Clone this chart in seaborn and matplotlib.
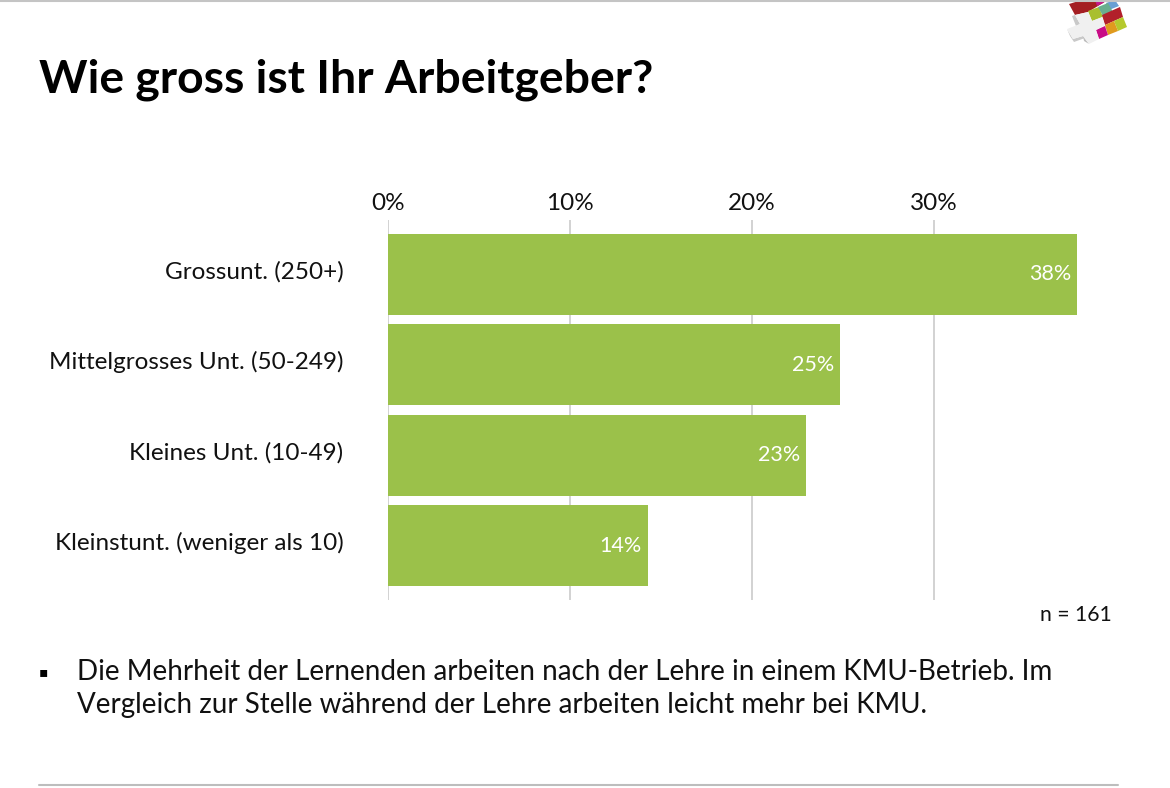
import matplotlib
matplotlib.use("Agg")
import matplotlib.pyplot as plt
import matplotlib.transforms as mtrans
import pandas as pd
import seaborn as sns
from matplotlib.patches import Polygon

# ---------------------------------
# Data
# ---------------------------------
categories = ["Grossunt. (250+)", "Mittelgrosses Unt. (50-249)",
              "Kleines Unt. (10-49)", "Kleinstunt. (weniger als 10)"]
values = [37.86, 24.85, 22.97, 14.3]
value_labels = ["38%", "25%", "23%", "14%"]
x_ticks = [0, 10, 20, 30]
x_tick_labels = ["0%", "10%", "20%", "30%"]

title = "Wie gross ist Ihr Arbeitgeber?"
note = "n = 161"
bullet_lines = ["Die Mehrheit der Lernenden arbeiten nach der Lehre in einem KMU-Betrieb. Im",
                "Vergleich zur Stelle während der Lehre arbeiten leicht mehr bei KMU."]

W, H = 1170, 788
GREEN = "#9BC14A"
GRID = "#CFCFCF"

sns.set_theme(style="white")
plt.rcParams["font.family"] = ["Lato", "DejaVu Sans"]

df = pd.DataFrame({"kategorie": categories, "anteil": values})

fig = plt.figure(figsize=(W / 100, H / 100), dpi=100, facecolor="white")

# axes box in pixels: left 388, right 1098, top 220, bottom 600
ax = fig.add_axes([388 / W, 1 - 600 / H, 710 / W, 380 / H])
ax.set_axisbelow(True)
sns.barplot(data=df, y="kategorie", x="anteil", color=GREEN, saturation=1,
            width=0.895, linewidth=0, ax=ax)

ax.set_xlim(0, 39)
ax.set_ylim(3.597, -0.602)
ax.set_xlabel("")
ax.set_ylabel("")
ax.xaxis.tick_top()
ax.set_xticks(x_ticks)
ax.set_xticklabels(x_tick_labels, fontsize=17.5, color="#111111")
ax.tick_params(axis="x", length=0, pad=4.5)
ax.tick_params(axis="y", length=0, pad=32, labelsize=17.5, labelcolor="#111111")
ax.xaxis.grid(True, color=GRID, linewidth=1.3)
ax.yaxis.grid(False)
for s in ax.spines.values():
    s.set_visible(False)

# category labels sit a little above the bar centres
shift_up = mtrans.ScaledTranslation(0, 5 / 100, fig.dpi_scale_trans)
for lab in ax.get_yticklabels():
    lab.set_transform(lab.get_transform() + shift_up)

ax.bar_label(ax.containers[0], labels=value_labels, label_type="edge", padding=-35,
             color="white", fontsize=15.5)


# ---------------------------------
# Slide elements around the chart
# ---------------------------------
def px_text(x, y, s, **kw):
    fig.text(x / W, 1 - y / H, s, va="center", **kw)


def px_line(x0, x1, y, color, lw):
    fig.add_artist(plt.Line2D([x0 / W, x1 / W], [1 - y / H, 1 - y / H], color=color, linewidth=lw))


def px_poly(pts, color):
    fig.add_artist(Polygon([(x / W, 1 - y / H) for x, y in pts], closed=True,
                           facecolor=color, edgecolor="none", transform=fig.transFigure))


px_text(39, 80, title, fontsize=33.3, fontweight="bold", color="black")
px_text(1112, 615, note, ha="right", fontsize=15.2, color="#111111")
px_text(39, 672, "▪", fontsize=10, color="black", family=["DejaVu Sans"])
px_text(77, 672, bullet_lines[0], fontsize=20, color="#111111")
px_text(77, 705, bullet_lines[1], fontsize=20, color="#111111")

px_line(0, W, 0.5, "#C4C4C4", 1.5)
px_line(39, 1118, 785, "#BDBDBD", 1.5)

# logo
px_poly([(1069, 4), (1082, 0), (1108, 0), (1088, 12), (1075, 15)], "#A41E22")
px_poly([(1095, 0), (1106, 0), (1103, 3), (1097, 6)], "#C5168C")
px_poly([(1106, 3), (1115, 0), (1119, 6), (1109, 10)], "#6A9FD3")
px_poly([(1088, 11), (1099, 7), (1103, 17), (1092, 21)], "#A9BF2F")
px_poly([(1098, 7), (1108, 3), (1113, 12), (1103, 16)], "#6AAE8E")
px_poly([(1102, 15), (1120, 7), (1123, 17), (1105, 25)], "#B2202A")
px_poly([(1114, 21), (1123, 17), (1127, 27), (1118, 31)], "#B5C92D")
px_poly([(1105, 25), (1114, 21), (1118, 31), (1108, 35)], "#E09A1E")
px_poly([(1096, 30), (1105, 26), (1108, 35), (1099, 39)], "#C80C86")
px_poly([(1075, 15), (1080, 24), (1076, 26), (1072, 16)], "#C9C9C9")
px_poly([(1067, 29), (1070, 36), (1074, 42), (1085, 38), (1083, 36), (1073, 39)], "#C9C9C9")
px_poly([(1083, 36), (1084, 41), (1089, 44)], "#BDBDBD")
px_poly([(1075, 15), (1088, 12), (1092, 21), (1102, 17), (1105, 25), (1096, 30), (1099, 39),
         (1089, 44), (1083, 36), (1073, 39), (1067, 29), (1080, 24)], "#F0F0F0")

fig.savefig("out.png", dpi=100, facecolor="white")
